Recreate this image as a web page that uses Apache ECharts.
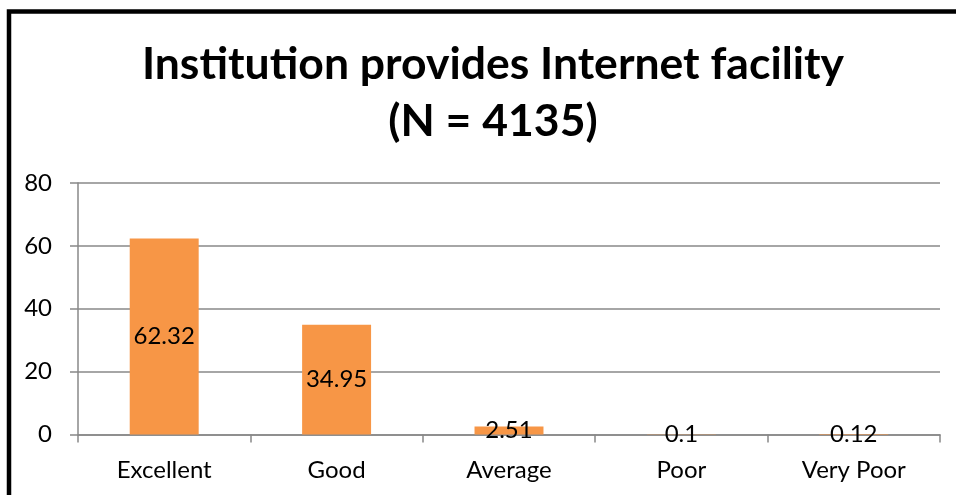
<!DOCTYPE html>
<html><head><meta charset="utf-8">
<script src="https://cdn.jsdelivr.net/npm/echarts@6/dist/echarts.min.js"></script>
<style>html,body{margin:0;padding:0;background:#fff}#c{width:956px;height:495px}</style>
</head><body><div id="c"></div>
<script>
const categories = ['Excellent', 'Good', 'Average', 'Poor', 'Very Poor'];
const values = [62.32, 34.95, 2.51, 0.1, 0.12];
const yTicks = [0, 20, 40, 60, 80];
const titleLines = ['Institution provides Internet facility', '(N = 4135)'];

const FONT = 'Lato';
const chart = echarts.init(document.getElementById('c'), null, {renderer: 'canvas'});
chart.setOption({
  backgroundColor: '#fff',
  animation: false,
  title: {
    text: titleLines.join('\n'),
    left: 488,
    textAlign: 'center',
    top: 31,
    textStyle: {fontFamily: FONT, fontWeight: 'bold', fontSize: 44.5, lineHeight: 57, color: '#000'}
  },
  graphic: [{
    type: 'rect',
    shape: {x: 9, y: 11.5, width: 1000, height: 600},
    style: {fill: 'none', stroke: '#000', lineWidth: 4.5},
    z: 100
  }],
  grid: {left: 78, right: 16, top: 183, bottom: 60.5},
  xAxis: {
    type: 'category',
    data: categories,
    axisLine: {lineStyle: {color: '#888', width: 1.5}},
    axisTick: {show: true, length: 8, lineStyle: {color: '#888', width: 1.5}},
    axisLabel: {fontFamily: FONT, fontSize: 24, color: '#000', margin: 24}
  },
  yAxis: {
    type: 'value',
    min: yTicks[0],
    max: yTicks[yTicks.length - 1],
    interval: yTicks[1] - yTicks[0],
    axisLine: {show: true, lineStyle: {color: '#888', width: 1.5}},
    axisTick: {show: true, length: 8, lineStyle: {color: '#888', width: 1.5}},
    splitLine: {lineStyle: {color: '#888', width: 1.5}},
    axisLabel: {fontFamily: FONT, fontSize: 24, color: '#000', margin: 26}
  },
  series: [{
    type: 'bar',
    data: values,
    barWidth: '40%',
    itemStyle: {color: '#F79646'},
    label: {show: true, position: 'inside', fontFamily: FONT, fontSize: 24, color: '#000'}
  }]
});
</script></body></html>
